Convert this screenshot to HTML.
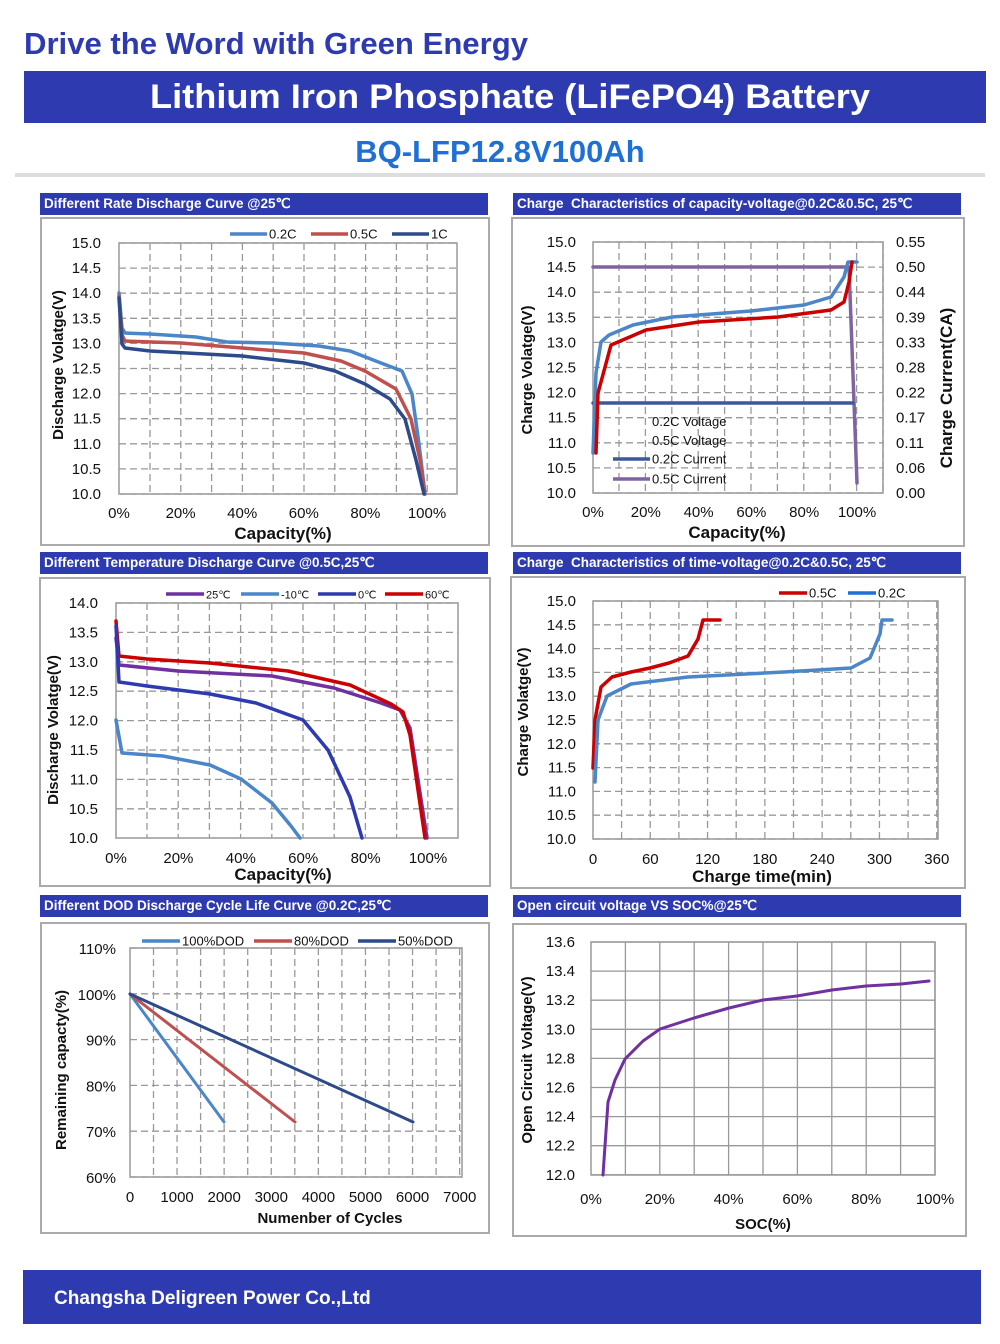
<!DOCTYPE html><html><head><meta charset="utf-8"><style>
body{margin:0;background:#fff;width:1000px;height:1344px;overflow:hidden}
svg{display:block;font-family:"Liberation Sans",Arial,sans-serif}
</style></head><body>
<svg id="s" width="1000" height="1344" viewBox="0 0 1000 1344" xmlns="http://www.w3.org/2000/svg">
<text x="24" y="54" font-size="31" font-weight="bold" fill="#2e3bb0" textLength="504" lengthAdjust="spacingAndGlyphs">Drive the Word with Green Energy</text>
<rect x="24" y="71" width="962" height="52" fill="#2e3bb0"/>
<text x="510" y="108" font-size="34" font-weight="bold" fill="#fff" text-anchor="middle" textLength="720" lengthAdjust="spacingAndGlyphs">Lithium Iron Phosphate (LiFePO4) Battery</text>
<text x="500" y="162" font-size="31" font-weight="bold" fill="#1e6fd6" text-anchor="middle">BQ-LFP12.8V100Ah</text>
<rect x="15" y="173" width="970" height="4" fill="#ddd"/>
<g id="g"></g>
<rect x="23" y="1270" width="958" height="54" fill="#2e3bb0"/>
<text x="54" y="1304" font-size="19" font-weight="bold" fill="#fff">Changsha Deligreen Power Co.,Ltd</text>
</svg>
<script>
var G=document.getElementById('g'),h='';
function hdr(x,y,w,t){h+='<rect x="'+x+'" y="'+y+'" width="'+w+'" height="22" fill="#2e3bb0"/><text x="'+(x+4)+'" y="'+(y+15)+'" font-size="13.5" font-weight="bold" fill="#fff">'+t+'</text>';}
function box(x,y,w,hh){h+='<rect x="'+x+'" y="'+y+'" width="'+w+'" height="'+hh+'" fill="#fff" stroke="#aaa" stroke-width="2"/>';}
function plot(l,t,r,b,vx,hy,dash){var d=dash?' stroke-dasharray="7,4"':'';
 vx.forEach(function(x){h+='<line x1="'+x+'" y1="'+t+'" x2="'+x+'" y2="'+b+'" stroke="#999" stroke-width="1.3"'+d+'/>';});
 hy.forEach(function(y){h+='<line x1="'+l+'" y1="'+y+'" x2="'+r+'" y2="'+y+'" stroke="#999" stroke-width="1.3"'+d+'/>';});
 h+='<rect x="'+l+'" y="'+t+'" width="'+(r-l)+'" height="'+(b-t)+'" fill="none" stroke="#999" stroke-width="1.5"/>';}
function rng(a,b,s){var r=[];for(var v=a;v<=b+0.01;v+=s)r.push(v);return r;}
function txt(x,y,s,o){h+='<text x="'+x+'" y="'+y+'" font-size="'+(o&&o.fs||15)+'" text-anchor="'+(o&&o.a||'middle')+'"'+(o&&o.b?' font-weight="bold"':'')+(o&&o.rot?' transform="rotate(-90 '+x+' '+y+')"':'')+' fill="#111">'+s+'</text>';}
function pl(pts,c,w){h+='<polyline points="'+pts+'" fill="none" stroke="'+c+'" stroke-width="'+(w||3.5)+'" stroke-linejoin="round" stroke-linecap="round"/>';}
function leg(x,y,c,t,len,fs){h+='<line x1="'+x+'" y1="'+y+'" x2="'+(x+len)+'" y2="'+y+'" stroke="'+c+'" stroke-width="3.5"/><text x="'+(x+len+2)+'" y="'+(y+4.5)+'" font-size="'+fs+'" fill="#111">'+t+'</text>';}
// Panel 1
hdr(40,193,448,'Different Rate Discharge Curve @25\u2103');box(41,218,448,327);
plot(119,243,457,494,rng(150,457,30.8),rng(243,494,25.1),1);
['15.0','14.5','14.0','13.5','13.0','12.5','12.0','11.5','11.0','10.5','10.0'].forEach(function(s,i){txt(101,248+i*25.1,s,{a:'end'});});
['0%','20%','40%','60%','80%','100%'].forEach(function(s,i){txt(119+i*61.6,518,s);});
txt(283,539,'Capacity(%)',{b:1,fs:17});txt(63,365,'Discharge Volatge(V)',{b:1,fs:15,rot:1});
leg(230,234,'#4a86c8','0.2C',37,13);leg(311,234,'#c0504d','0.5C',37,13);leg(392,234,'#2d4a8a','1C',37,13);
pl('119,293 122,328 125,333 150,334 196,337 227,342 273,343 319,346 350,351 381,363 402,371 412,394 419,444 425,494','#4a86c8');
pl('119,296 122,335 125,341 181,343 242,348 304,353 341,361 365,371 396,389 411,419 420,460 425,494','#c0504d');
pl('119,298 122,344 125,348 150,351 242,356 304,363 335,371 365,384 390,399 405,419 416,460 424,494','#2d4a8a');
// Panel 2
hdr(513,193,448,'Charge&#160; Characteristics of capacity-voltage@0.2C&amp;0.5C, 25\u2103');box(512,218,452,328);
plot(593,242,883,493,rng(619,883,26.4),rng(242,493,25.1),1);
['15.0','14.5','14.0','13.5','13.0','12.5','12.0','11.5','11.0','10.5','10.0'].forEach(function(s,i){txt(576,247+i*25.1,s,{a:'end'});});
['0.55','0.50','0.44','0.39','0.33','0.28','0.22','0.17','0.11','0.06','0.00'].forEach(function(s,i){txt(896,247+i*25.1,s,{a:'start'});});
['0%','20%','40%','60%','80%','100%'].forEach(function(s,i){txt(593+i*52.8,517,s);});
txt(737,538,'Capacity(%)',{b:1,fs:17});txt(532,370,'Charge Volatge(V)',{b:1,fs:15,rot:1});txt(952,388,'Charge Current(CA)',{b:1,fs:17,rot:1});
pl('593,267 849,267 857,483','#8064a2');
pl('593,403 853,403','#3a5a9c');
pl('593,453 596,373 601,342 609,335 633,325 672,317 751,311 804,305 831,297 844,277 848,262 857,262','#4a86c8');
pl('596,453 598,393 611,345 646,330 699,322 778,317 831,310 844,302 849,282 852,262','#cc0000');
txt(652,426,'0.2C Voltage',{a:'start',fs:13});txt(652,445,'0.5C Voltage',{a:'start',fs:13});
leg(613,459,'#3a5a9c','0.2C Current',37,13);leg(613,479,'#8064a2','0.5C Current',37,13);
// Panel 3
hdr(40,552,448,'Different Temperature Discharge Curve @0.5C,25\u2103');box(40,578,450,308);
plot(116,603,458,838,rng(147,458,31.2),rng(603,838,29.4),1);
['14.0','13.5','13.0','12.5','12.0','11.5','11.0','10.5','10.0'].forEach(function(s,i){txt(98,608+i*29.4,s,{a:'end'});});
['0%','20%','40%','60%','80%','100%'].forEach(function(s,i){txt(116+i*62.4,863,s);});
txt(283,880,'Capacity(%)',{b:1,fs:17});txt(58,730,'Discharge Volatge(V)',{b:1,fs:15,rot:1});
leg(166,594,'#7030a0','25\u2103',38,11);leg(241,594,'#4a86c8','-10\u2103',38,11);leg(318,594,'#2e3bb0','0\u2103',38,11);leg(385,594,'#cc0000','60\u2103',38,11);
pl('116,638 119,665 178,671 272,676 334,688 381,703 400,710 410,728 418,780 427,838','#7030a0');
pl('116,621 119,656 147,659 210,663 288,671 350,685 391,704 403,712 410,735 418,790 425,838','#cc0000');
pl('116,626 119,682 147,686 210,694 256,703 303,720 328,750 350,797 362,838','#2e3bb0');
pl('116,720 122,753 163,756 210,765 241,779 272,803 291,826 300,838','#4a86c8');
// Panel 4
hdr(513,552,448,'Charge&#160; Characteristics of time-voltage@0.2C&amp;0.5C, 25\u2103');box(511,577,454,311);
plot(593,601,938,839,rng(621.6,938,28.65),rng(601,839,23.8),1);
['15.0','14.5','14.0','13.5','13.0','12.5','12.0','11.5','11.0','10.5','10.0'].forEach(function(s,i){txt(576,606+i*23.8,s,{a:'end'});});
['0','60','120','180','240','300','360'].forEach(function(s,i){txt(593+i*57.3,864,s);});
txt(762,882,'Charge time(min)',{b:1,fs:17});txt(528,712,'Charge Volatge(V)',{b:1,fs:15,rot:1});
leg(779,593,'#cc0000','0.5C',28,13);leg(848,593,'#1e6fd6','0.2C',28,13);
pl('593,768 595,720 601,687 612,677 631,672 650,668 669,663 688,656 698,639 703,620 720,620','#cc0000');
pl('595,782 598,720 607,696 631,684 688,677 784,672 851,668 870,658 880,634 882,620 892,620','#4a86c8');
// Panel 5
hdr(40,895,448,'Different DOD Discharge Cycle Life Curve @0.2C,25\u2103');box(41,923,448,310);
plot(130,948,462,1177,rng(153.5,462,23.55),rng(948,1177,45.8),1);
['110%','100%','90%','80%','70%','60%'].forEach(function(s,i){txt(116,954+i*45.8,s,{a:'end'});});
['0','1000','2000','3000','4000','5000','6000','7000'].forEach(function(s,i){txt(130+i*47.1,1202,s);});
txt(330,1223,'Numenber of Cycles',{b:1,fs:15});txt(66,1070,'Remaining capacty(%)',{b:1,fs:15,rot:1});
leg(142,941,'#4a86c8','100%DOD',38,13);leg(254,941,'#c0504d','80%DOD',38,13);leg(358,941,'#2d4a8a','50%DOD',38,13);
pl('130,994 224,1122','#4a86c8',3);pl('130,994 295,1122','#c0504d',3);pl('130,994 413,1122','#2d4a8a',3);
// Panel 6
hdr(513,895,448,'Open circuit voltage VS SOC%@25\u2103');box(513,924,453,312);
plot(591,942,935,1175,rng(625.4,935,34.4),rng(942,1175,29.1),0);
['13.6','13.4','13.2','13.0','12.8','12.6','12.4','12.2','12.0'].forEach(function(s,i){txt(575,947+i*29.1,s,{a:'end'});});
['0%','20%','40%','60%','80%','100%'].forEach(function(s,i){txt(591+i*68.8,1204,s);});
txt(763,1229,'SOC(%)',{b:1,fs:15});txt(532,1060,'Open Circuit Voltage(V)',{b:1,fs:15,rot:1});
pl('603,1175 608,1102 615,1080 625,1059 643,1041 660,1029 694,1018 729,1008 763,1000 797,996 832,990 866,986 901,984 929,981','#7030a0',3);
G.innerHTML=h;
</script>
</body></html>
